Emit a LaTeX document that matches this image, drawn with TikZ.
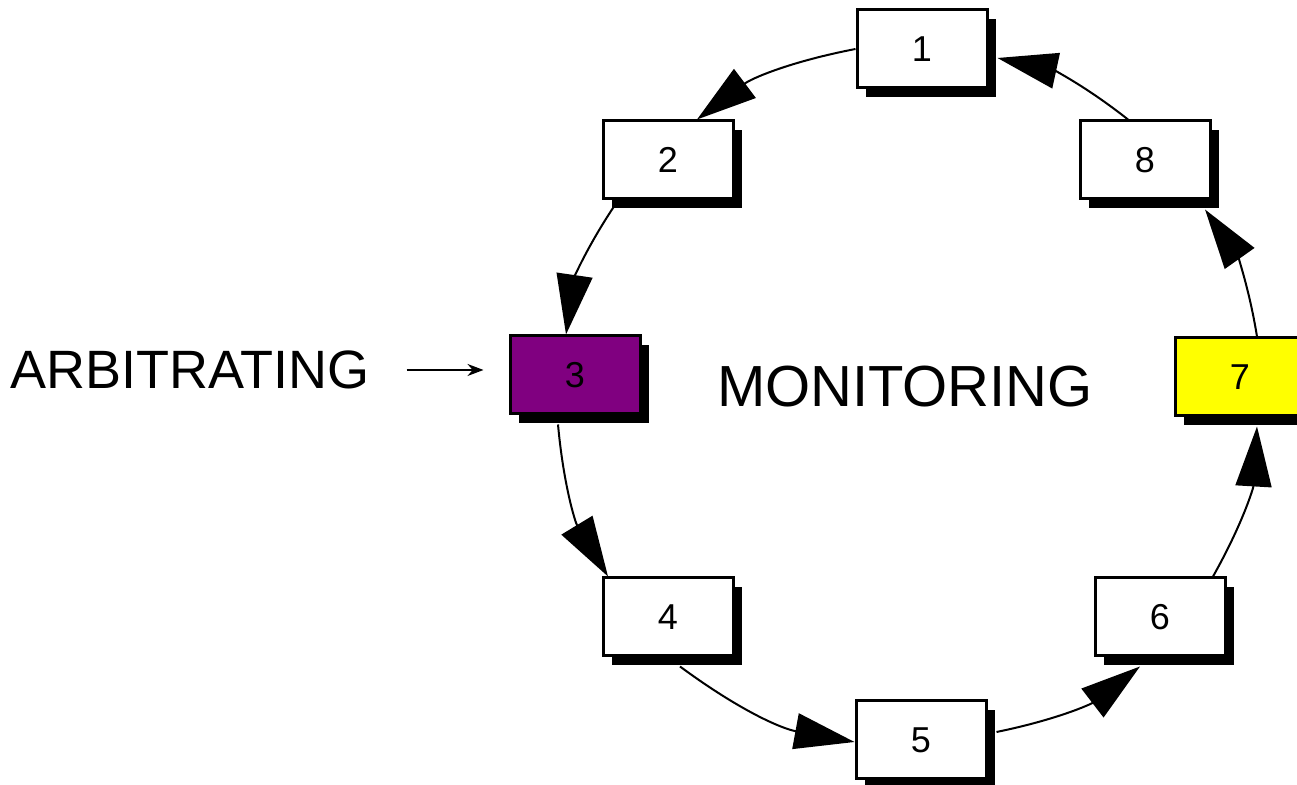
\documentclass[tikz,border=0pt]{standalone}
\usepackage{fontspec}
\setmainfont{Liberation Sans}
\usetikzlibrary{arrows.meta,shadows}
\definecolor{arbpurple}{HTML}{800080}
\definecolor{monyellow}{HTML}{FFFF00}
\begin{document}
\begin{tikzpicture}[x=0.5pt,y=0.5pt,
  statebox/.style={draw=black, line width=1.5pt, fill=white,
    minimum width=65pt, minimum height=39pt, inner sep=0pt,
    font=\fontsize{18}{20}\selectfont,
    drop shadow={shadow xshift=4.5pt, shadow yshift=-4.5pt, fill=black, opacity=1}},
  ring/.style={line width=1pt, -{Triangle[length=30pt,width=18pt]}, bend right=13},
  bigtext/.style={font=\fontsize{27}{30}\selectfont}]
\useasboundingbox (0,0) rectangle (1297,785);

% states around the ring
\node[statebox] (b1) at (922,736) {1};
\node[statebox] (b2) at (668,625) {2};
\node[statebox, fill=arbpurple] (b3) at (575,410) {3};
\node[statebox] (b4) at (668,168) {4};
\node[statebox] (b5) at (921,45) {5};
\node[statebox] (b6) at (1160,168) {6};
\node[statebox, fill=monyellow] (b7) at (1240,408) {7};
\node[statebox] (b8) at (1145,625) {8};

% labels
\node[bigtext] (arb) at (190,415) {ARBITRATING};
\node[font=\fontsize{29}{32}\selectfont] (mon) at (905,398) {MONITORING};
\coordinate (arbtip) at ([xshift=-12.5pt]b3.west |- arb.east);
\draw[line width=1pt, -{Stealth[length=8pt,width=6pt]}] ([xshift=15pt]arb.east) -- (arbtip);

% ring connectors
\draw[ring] (b1.west) to ([xshift=14.5pt]b2.north);
\draw[ring] ([xshift=-25pt]b2.south) to ([xshift=-4.5pt]b3.north);
\draw[ring] ([xshift=-8.5pt,yshift=-4.5pt]b3.south) to ([xshift=-30pt]b4.north);
\draw[ring] ([xshift=6pt,yshift=-4.5pt]b4.south) to ([yshift=-1pt]b5.west);
\draw[ring] ([xshift=4.5pt,yshift=4pt]b5.east) to ([xshift=-10pt,yshift=-4.5pt]b6.south);
\draw[ring] ([xshift=26.5pt]b6.north) to ([xshift=8.5pt,yshift=-4.5pt]b7.south);
\draw[ring] ([xshift=8.5pt]b7.north) to ([xshift=30pt,yshift=-4.5pt]b8.south);
\draw[ring] ([xshift=-8.5pt]b8.north) to ([xshift=4.5pt,yshift=-4.5pt]b1.east);
\end{tikzpicture}
\end{document}
